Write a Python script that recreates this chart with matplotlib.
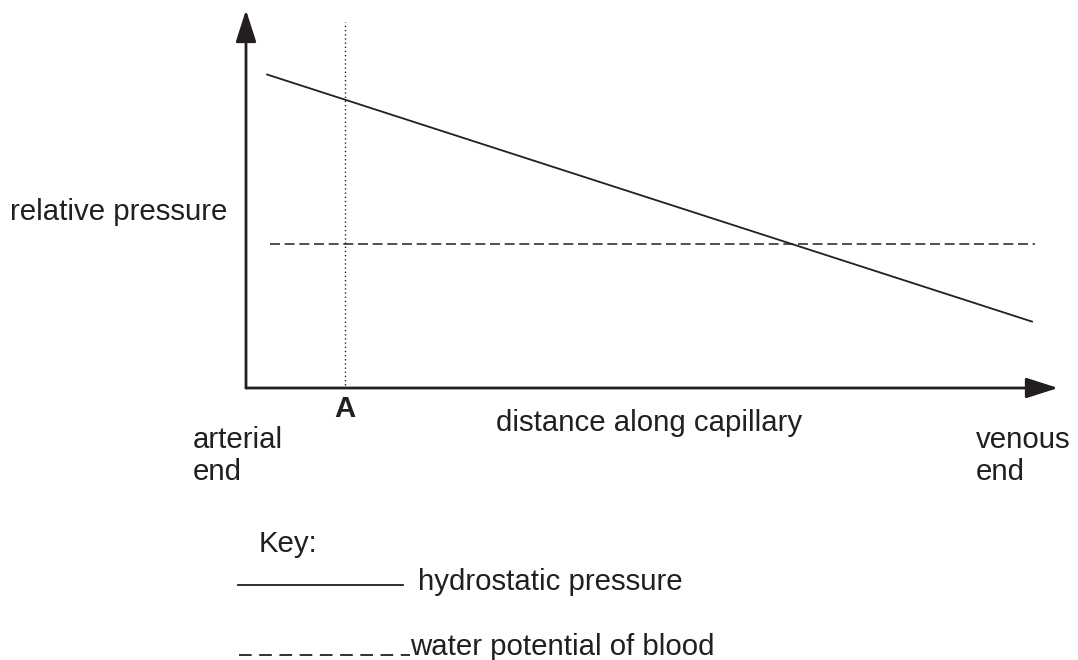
import matplotlib
matplotlib.use("Agg")
import matplotlib.pyplot as plt

plt.rcParams["font.family"] = ["Liberation Sans", "DejaVu Sans"]

# data (arbitrary units, 0-100 on both axes)
hydro_x = [2.5, 96.9]
hydro_y = [83.0, 17.5]
water_x = [2.9, 97.2]
water_y = [38.0, 38.0]
point_a = 12.2

W, H = 1078, 660
fig = plt.figure(figsize=(W / 100, H / 100), dpi=100)

# chart area in pixel terms: left 246, right 1058, top 10, bottom 388
ax = fig.add_axes([246 / W, 1 - 388 / H, (1058 - 246) / W, (388 - 10) / H])
ax.set_xlim(0, 100)
ax.set_ylim(0, 100)
for s in ax.spines.values():
    s.set_visible(False)
ax.set_xticks([])
ax.set_yticks([])
ax.patch.set_alpha(0)

tc = "#231f20"
fs = 21.2

arrow = dict(arrowstyle="-|>,head_length=1.4,head_width=0.45", color=tc, lw=2.0,
             shrinkA=0, shrinkB=0, mutation_scale=14)
ax.annotate("", xy=(1, 0), xytext=(0, 0), xycoords="axes fraction", arrowprops=arrow)
ax.annotate("", xy=(0, 1), xytext=(0, 0), xycoords="axes fraction", arrowprops=arrow)

ax.plot(hydro_x, hydro_y, color=tc, lw=1.3, solid_capstyle="butt")
ax.plot(water_x, water_y, color=tc, lw=1.1, dashes=(6.5, 3.1))
ax.plot([point_a, point_a], [0.8, 96.8], color=tc, lw=1.0, linestyle=(0, (1, 2)))


def px_text(x, y, s, **kw):
    # place text by pixel position (y measured from top)
    fig.text(x / W, 1 - y / H, s, fontsize=fs, color=tc, va="baseline", **kw)


px_text(345, 417, "A", ha="center", fontweight="bold")
px_text(10, 220, "relative pressure", ha="left")
px_text(649, 431, "distance along capillary", ha="center")
px_text(193, 448, "arterial", ha="left")
px_text(193, 480, "end", ha="left")
px_text(976, 448, "venous", ha="left")
px_text(976, 480, "end", ha="left")

# key
px_text(259, 552, "Key:", ha="left")
fig.add_artist(plt.Line2D([238 / W, 403 / W], [1 - 585 / H, 1 - 585 / H], color=tc, lw=1.3))
px_text(418, 590, "hydrostatic pressure", ha="left")
fig.add_artist(plt.Line2D([239 / W, 410 / W], [1 - 655 / H, 1 - 655 / H], color=tc, lw=1.3,
                          dashes=(7.0, 4.2)))
px_text(410, 655, "water potential of blood", ha="left")

fig.savefig("out.png", dpi=100)
